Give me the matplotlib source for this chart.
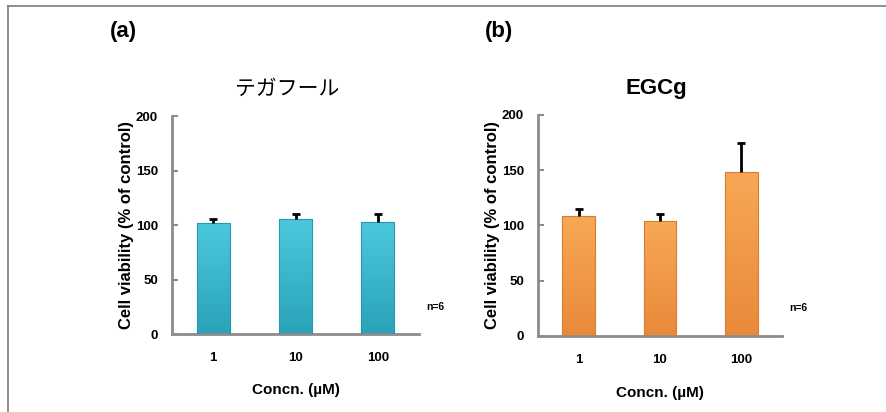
import numpy as np
import matplotlib
matplotlib.use("Agg")
import matplotlib.pyplot as plt
from matplotlib.colors import LinearSegmentedColormap
from matplotlib.lines import Line2D

plt.rcParams['font.family'] = ['Liberation Sans', 'Noto Sans CJK JP', 'DejaVu Sans']

# data
concs = ["1", "10", "100"]
tegafur_vals = [101.6, 105.2, 102.8]
tegafur_err = [4.1, 5.1, 6.9]
egcg_vals = [108.2, 104.5, 148.5]
egcg_err = [7.0, 5.5, 25.8]

AXIS_GRAY = "#8c8c8c"


def gradient_bars(ax, bars, light, dark):
    cmap = LinearSegmentedColormap.from_list("g", [dark, light])
    grad = np.linspace(0, 1, 64).reshape(-1, 1)
    for b in bars:
        x0, y0 = b.get_xy()
        im = ax.imshow(grad, extent=[x0, x0 + b.get_width(), y0, y0 + b.get_height()],
                       origin="lower", cmap=cmap, aspect="auto", zorder=2)
        im.set_clip_path(b)


def draw_panel(ax, vals, errs, light, dark, edge, title, title_kw, tx, ty):
    x = np.arange(len(concs)) + 0.5
    bars = ax.bar(x, vals, width=0.4, facecolor="none", edgecolor=edge, linewidth=0.8, zorder=3)
    gradient_bars(ax, bars, light, dark)
    # upper error only, no cap at the bar top
    _, caps, _ = ax.errorbar(x, vals, yerr=[np.zeros(len(vals)), errs], fmt="none",
                             ecolor="black", elinewidth=2, capsize=2.6, capthick=2, zorder=4)
    caps[0].set_visible(False)
    ax.set_xlim(0, len(concs))
    ax.set_ylim(0, 200)
    ax.set_xticks(x)
    ax.set_xticklabels(concs, fontsize=9.5, fontweight="bold")
    ax.set_yticks([0, 50, 100, 150, 200])
    ax.set_yticklabels(["0", "50", "100", "150", "200"], fontsize=9.5, fontweight="bold")
    ax.tick_params(axis="x", length=0, pad=13)
    ax.tick_params(axis="y", direction="in", length=4, width=1.5, color=AXIS_GRAY, pad=10)
    for s in ["top", "right"]:
        ax.spines[s].set_visible(False)
    for s in ["left", "bottom"]:
        ax.spines[s].set_color(AXIS_GRAY)
        ax.spines[s].set_linewidth(2)
    ax.set_ylabel("Cell viability (% of control)", fontsize=12, fontweight="bold")
    ax.yaxis.set_label_coords(-0.155, 0.5)
    ax.set_xlabel("Concn. (\u00b5M)", fontsize=11, fontweight="bold")
    ax.xaxis.set_label_coords(0.5, -0.225)
    ax.text(tx, ty, title, transform=ax.transAxes, ha="center", va="center", **title_kw)
    ax.text(1.065, 0.125, "n=6", transform=ax.transAxes, ha="center", va="center",
            fontsize=7.5, fontweight="bold")


fig = plt.figure(figsize=(8.87, 4.12), dpi=100)
ax_a = fig.add_axes([0.1939, 0.1893, 0.2785, 0.5291])
ax_b = fig.add_axes([0.6065, 0.1845, 0.2751, 0.5364])

draw_panel(ax_a, tegafur_vals, tegafur_err, "#4cc8de", "#2aa3ba", "#2596ab",
           "テガフール", dict(fontsize=15, family=["Noto Sans CJK JP"]), 0.466, 1.124)
draw_panel(ax_b, egcg_vals, egcg_err, "#f7a856", "#e98a3a", "#d97c30",
           "EGCg", dict(fontsize=16, fontweight="bold"), 0.484, 1.118)

fig.text(123 / 887, 1 - 32 / 412, "(a)", ha="center", va="center", fontsize=16, fontweight="bold")
fig.text(499 / 887, 1 - 32 / 412, "(b)", ha="center", va="center", fontsize=16, fontweight="bold")

# outer frame lines (top and left)
fig.add_artist(Line2D([8 / 887, 1], [1 - 6 / 412, 1 - 6 / 412], color="#7a7a7a", lw=1.2,
                      transform=fig.transFigure))
fig.add_artist(Line2D([8 / 887, 8 / 887], [0, 1 - 6 / 412], color="#7a7a7a", lw=1.2,
                      transform=fig.transFigure))

fig.savefig("out.png", dpi=100)
